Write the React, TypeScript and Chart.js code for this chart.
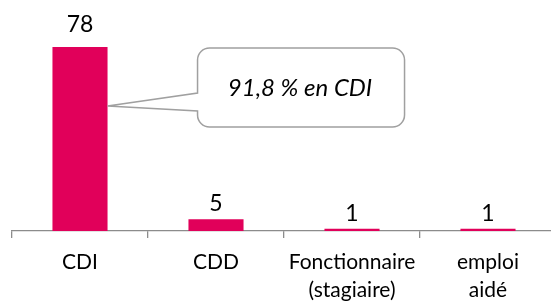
import React, { useEffect, useRef } from "react";
import { Chart, registerables } from "chart.js";

Chart.register(...registerables);

const categories: string[][] = [["CDI"], ["CDD"], ["Fonctionnaire", "(stagiaire)"], ["emploi", "aidé"]];
const values: number[] = [78, 5, 1, 1];
const calloutText = "91,8 % en CDI";
const calloutValue = 53; // y value where pointer touches CDI bar

const BAR_COLOR = "#E1005A";
const FONT = "Lato, 'Open Sans', sans-serif";

const dataLabelPlugin = {
  id: "dataLabels",
  afterDatasetsDraw(chart: any) {
    const ctx = chart.ctx;
    const meta = chart.getDatasetMeta(0);
    ctx.save();
    ctx.font = `23px ${FONT}`;
    ctx.fillStyle = "#000";
    ctx.textAlign = "center";
    ctx.textBaseline = "alphabetic";
    meta.data.forEach((bar: any, i: number) => {
      const extra = i === 0 ? 15 : 8;
      ctx.fillText(String(values[i]), bar.x, bar.y - extra);
    });
    ctx.restore();
  },
};

const calloutPlugin = {
  id: "callout",
  afterDraw(chart: any) {
    const ctx = chart.ctx;
    const bar = chart.getDatasetMeta(0).data[0];
    const y = chart.scales.y;
    const tipX = bar.x + bar.width / 2;
    const tipY = y.getPixelForValue(calloutValue);
    const left = tipX + 90;
    const top = chart.chartArea.top + 1;
    const right = left + 207;
    const bottom = top + 79;
    const r = 12;
    const p1 = top + 45;
    const p2 = top + 63;
    ctx.save();
    ctx.beginPath();
    ctx.moveTo(left + r, top);
    ctx.lineTo(right - r, top);
    ctx.arcTo(right, top, right, top + r, r);
    ctx.lineTo(right, bottom - r);
    ctx.arcTo(right, bottom, right - r, bottom, r);
    ctx.lineTo(left + r, bottom);
    ctx.arcTo(left, bottom, left, bottom - r, r);
    ctx.lineTo(left, p2);
    ctx.lineTo(tipX, tipY);
    ctx.lineTo(left, p1);
    ctx.lineTo(left, top + r);
    ctx.arcTo(left, top, left + r, top, r);
    ctx.closePath();
    ctx.fillStyle = "#fff";
    ctx.fill();
    ctx.strokeStyle = "#A0A0A0";
    ctx.lineWidth = 1.5;
    ctx.stroke();
    ctx.font = `italic 24px ${FONT}`;
    ctx.fillStyle = "#000";
    ctx.textAlign = "center";
    ctx.textBaseline = "alphabetic";
    ctx.fillText(calloutText, (left + right) / 2 -1, top + 48);
    ctx.restore();
  },
};

export default function App() {
  const ref = useRef<HTMLCanvasElement>(null);
  useEffect(() => {
    document.documentElement.style.overflow = "hidden";
    document.body.style.overflow = "hidden";
    const chart = new Chart(ref.current!, {
      type: "bar",
      data: {
        labels: categories,
        datasets: [
          {
            data: values,
            backgroundColor: BAR_COLOR,
            barPercentage: 0.405,
            categoryPercentage: 1,
          },
        ],
      },
      options: {
        animation: false,
        responsive: false,
        maintainAspectRatio: false,
        layout: { padding: { left: 12, right: 14, top: 47, bottom: 0 } },
        plugins: { legend: { display: false }, tooltip: { enabled: false } },
        scales: {
          y: { display: false, min: 0, max: 78 },
          x: {
            afterFit(scale: any) {
              scale.height = 70;
            },
            border: { display: true, color: "#8C8C8C", width: 1.3 },
            grid: {
              offset: true,
              drawOnChartArea: false,
              drawTicks: true,
              tickLength: 7,
              color: "#8C8C8C",
              lineWidth: 1.3,
            },
            ticks: {
              color: "#000",
              font: { family: FONT, size: 21, lineHeight: 1.35 },
              padding: 10,
              maxRotation: 0,
              autoSkip: false,
            },
          },
        },
      },
      plugins: [dataLabelPlugin, calloutPlugin],
    });
    return () => chart.destroy();
  }, []);
  return (
    <div style={{ position: "absolute", left: 0, top: 0, width: 570, height: 301 }}>
      <canvas ref={ref} width={570} height={301} style={{ width: 570, height: 301 }} />
    </div>
  );
}
